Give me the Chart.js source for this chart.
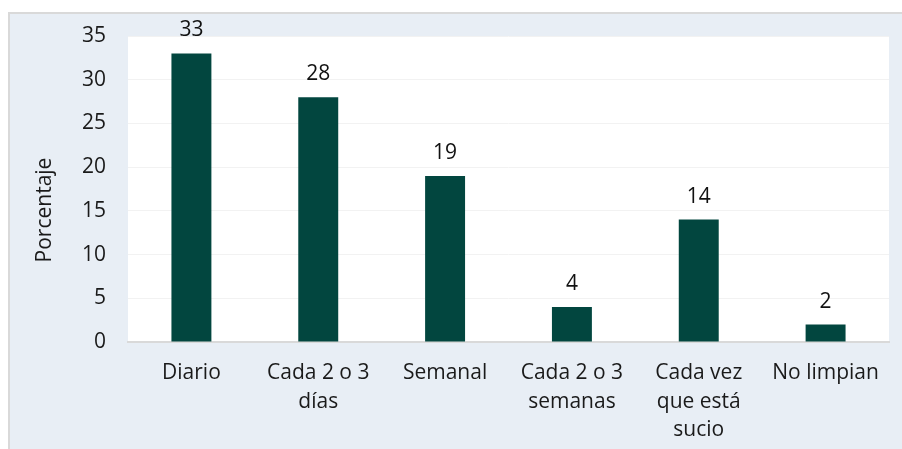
<!DOCTYPE html>
<html>
<head>
<meta charset="utf-8">
<script src="https://cdn.jsdelivr.net/npm/chart.js@4/dist/chart.umd.min.js"></script>
<style>
  html, body { margin: 0; padding: 0; background: #fff; }
  .frame {
    position: absolute; left: 8px; top: 12px;
    width: 892px; height: 435px;
    border-left: 2px solid #d9d9d9; border-top: 2px solid #d9d9d9;
    background: #e8eef5;
  }
  canvas { display: block; }
</style>
</head>
<body>
<div class="frame"><canvas id="myChart" width="892" height="435"></canvas></div>
<script>
const categories = [
  'Diario',
  ['Cada 2 o 3', 'días'],
  'Semanal',
  ['Cada 2 o 3', 'semanas'],
  ['Cada vez', 'que está', 'sucio'],
  'No limpian'
]
const porcentajes = [33, 28, 19, 4, 14, 2]
const yTicks = [0, 5, 10, 15, 20, 25, 30, 35]
const yTitle = 'Porcentaje'

const barColor = '#02463f'
const fontFamily = '"Open Sans", "Noto Sans", sans-serif'

// white plot area
const plotBg = {
  id: 'plotBg',
  beforeDraw(chart) {
    const a = chart.chartArea
    const ctx = chart.ctx
    ctx.save()
    ctx.fillStyle = '#ffffff'
    ctx.fillRect(a.left, a.top, a.right - a.left, a.bottom - a.top)
    ctx.restore()
  }
}

// value above every bar + y title (sits a bit below the plot middle in the original)
const barValues = {
  id: 'barValues',
  afterDatasetsDraw(chart) {
    const ctx = chart.ctx
    const meta = chart.getDatasetMeta(0)
    ctx.save()
    ctx.fillStyle = '#111'
    ctx.font = '21px ' + fontFamily
    ctx.textAlign = 'center'
    ctx.textBaseline = 'alphabetic'
    meta.data.forEach((bar, i) => {
      ctx.fillText(porcentajes[i], bar.x, bar.y - 17)
    })

    const a = chart.chartArea
    ctx.translate(35, (a.top + a.bottom) / 2 + 21)
    ctx.rotate(-Math.PI / 2)
    ctx.fillStyle = '#1a1a1a'
    ctx.textBaseline = 'middle'
    ctx.fillText(yTitle, 0, 0)
    ctx.restore()
  }
}

const chart = new Chart(document.querySelector('#myChart'), {
  type: 'bar',
  data: {
    labels: categories,
    datasets: [{
      data: porcentajes,
      backgroundColor: barColor,
      categoryPercentage: 1,
      barPercentage: 0.315
    }]
  },
  options: {
    responsive: false,
    animation: false,
    layout: { padding: { top: 22, right: 13, left: 0, bottom: 0 } },
    plugins: {
      legend: { display: false },
      tooltip: { enabled: false }
    },
    scales: {
      x: {
        grid: { display: false },
        border: { display: true, color: '#d9d9d9', width: 2 },
        ticks: {
          color: '#1a1a1a',
          font: { family: fontFamily, size: 21, lineHeight: 1.35 },
          maxRotation: 0,
          autoSkip: false,
          padding: 9
        },
        afterFit(s) { s.height = 107; s.paddingLeft = 0; s.paddingRight = 0 }
      },
      y: {
        min: 0,
        max: 35,
        afterBuildTicks(s) { s.ticks = yTicks.map(v => ({ value: v })) },
        grid: { color: '#f2f2f2', drawTicks: false },
        border: { display: false },
        ticks: {
          color: '#1a1a1a',
          font: { family: fontFamily, size: 21 },
          padding: 22
        },
        afterFit(s) { s.width = 118; s.paddingTop = 0; s.paddingBottom = 0 }
      }
    }
  },
  plugins: [plotBg, barValues]
})
</script>
</body>
</html>
